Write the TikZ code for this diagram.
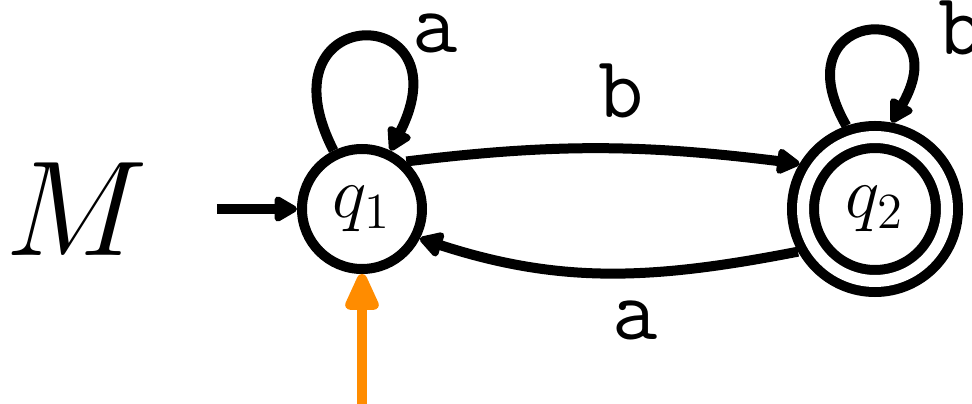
\documentclass[tikz,border=0pt]{standalone}
\usepackage{xcolor}
\usepackage{tikz}
\usetikzlibrary{arrows.meta,positioning}
\definecolor{headorange}{RGB}{255,140,0}

\begin{document}
\begin{tikzpicture}[
    state/.style={draw, circle, line width=0.1cm, minimum size=1.2cm, inner sep=0pt, font=\fontsize{21}{25}\selectfont},
    accept/.style={state, double, double distance=0.12cm, minimum size=1.44cm, outer sep=0.16cm},
    lbl/.style={inner sep=0pt, font=\fontsize{25}{30}\selectfont\ttfamily},
    arr/.style={-{Triangle[length=0.26cm, width=0.28cm, round]}, line width=0.1cm},
    head/.style={-{Triangle[length=0.44cm, width=0.36cm, round]}, line width=0.1cm, draw=headorange}
  ]
    \useasboundingbox (0,0) rectangle (9.72,4.04);
    \node[state] (q1) at (3.62,1.95) {$q_1$};
    \node[accept, right=3.6cm of q1] (q2) {$q_2$};
    \coordinate[left=0.8cm of q1] (start);
    \node[inner sep=0pt, font=\fontsize{24}{29}\selectfont, scale=1.55, left=0.68cm of start] (name) {$M$};
    \coordinate (tape) at (3.62,0);
    \draw[arr] (start) -- (q1);
    \draw[arr] (q1.116) to[out=117, in=63, looseness=7.6]
        node[lbl, pos=0.5, anchor=south west, shift={(0.45,-0.2)}] (la1) {a} (q1.64);
    \draw[arr] (q1.47) to[out=7, in=173]
        node[lbl, pos=0.55, above=0.26cm] (lb1) {b} (q2.149);
    \draw[arr] (q2.209) to[out=191, in=342]
        node[lbl, pos=0.42, below=0.23cm] (la2) {a} (q1.333);
    \draw[arr] (q2.109) to[out=120, in=60, looseness=8]
        node[lbl, pos=0.5, anchor=south west, shift={(0.64,-0.28)}] (lb2) {b} (q2.79);
    \draw[head] (tape) -- (q1);
  \end{tikzpicture}
\end{document}
